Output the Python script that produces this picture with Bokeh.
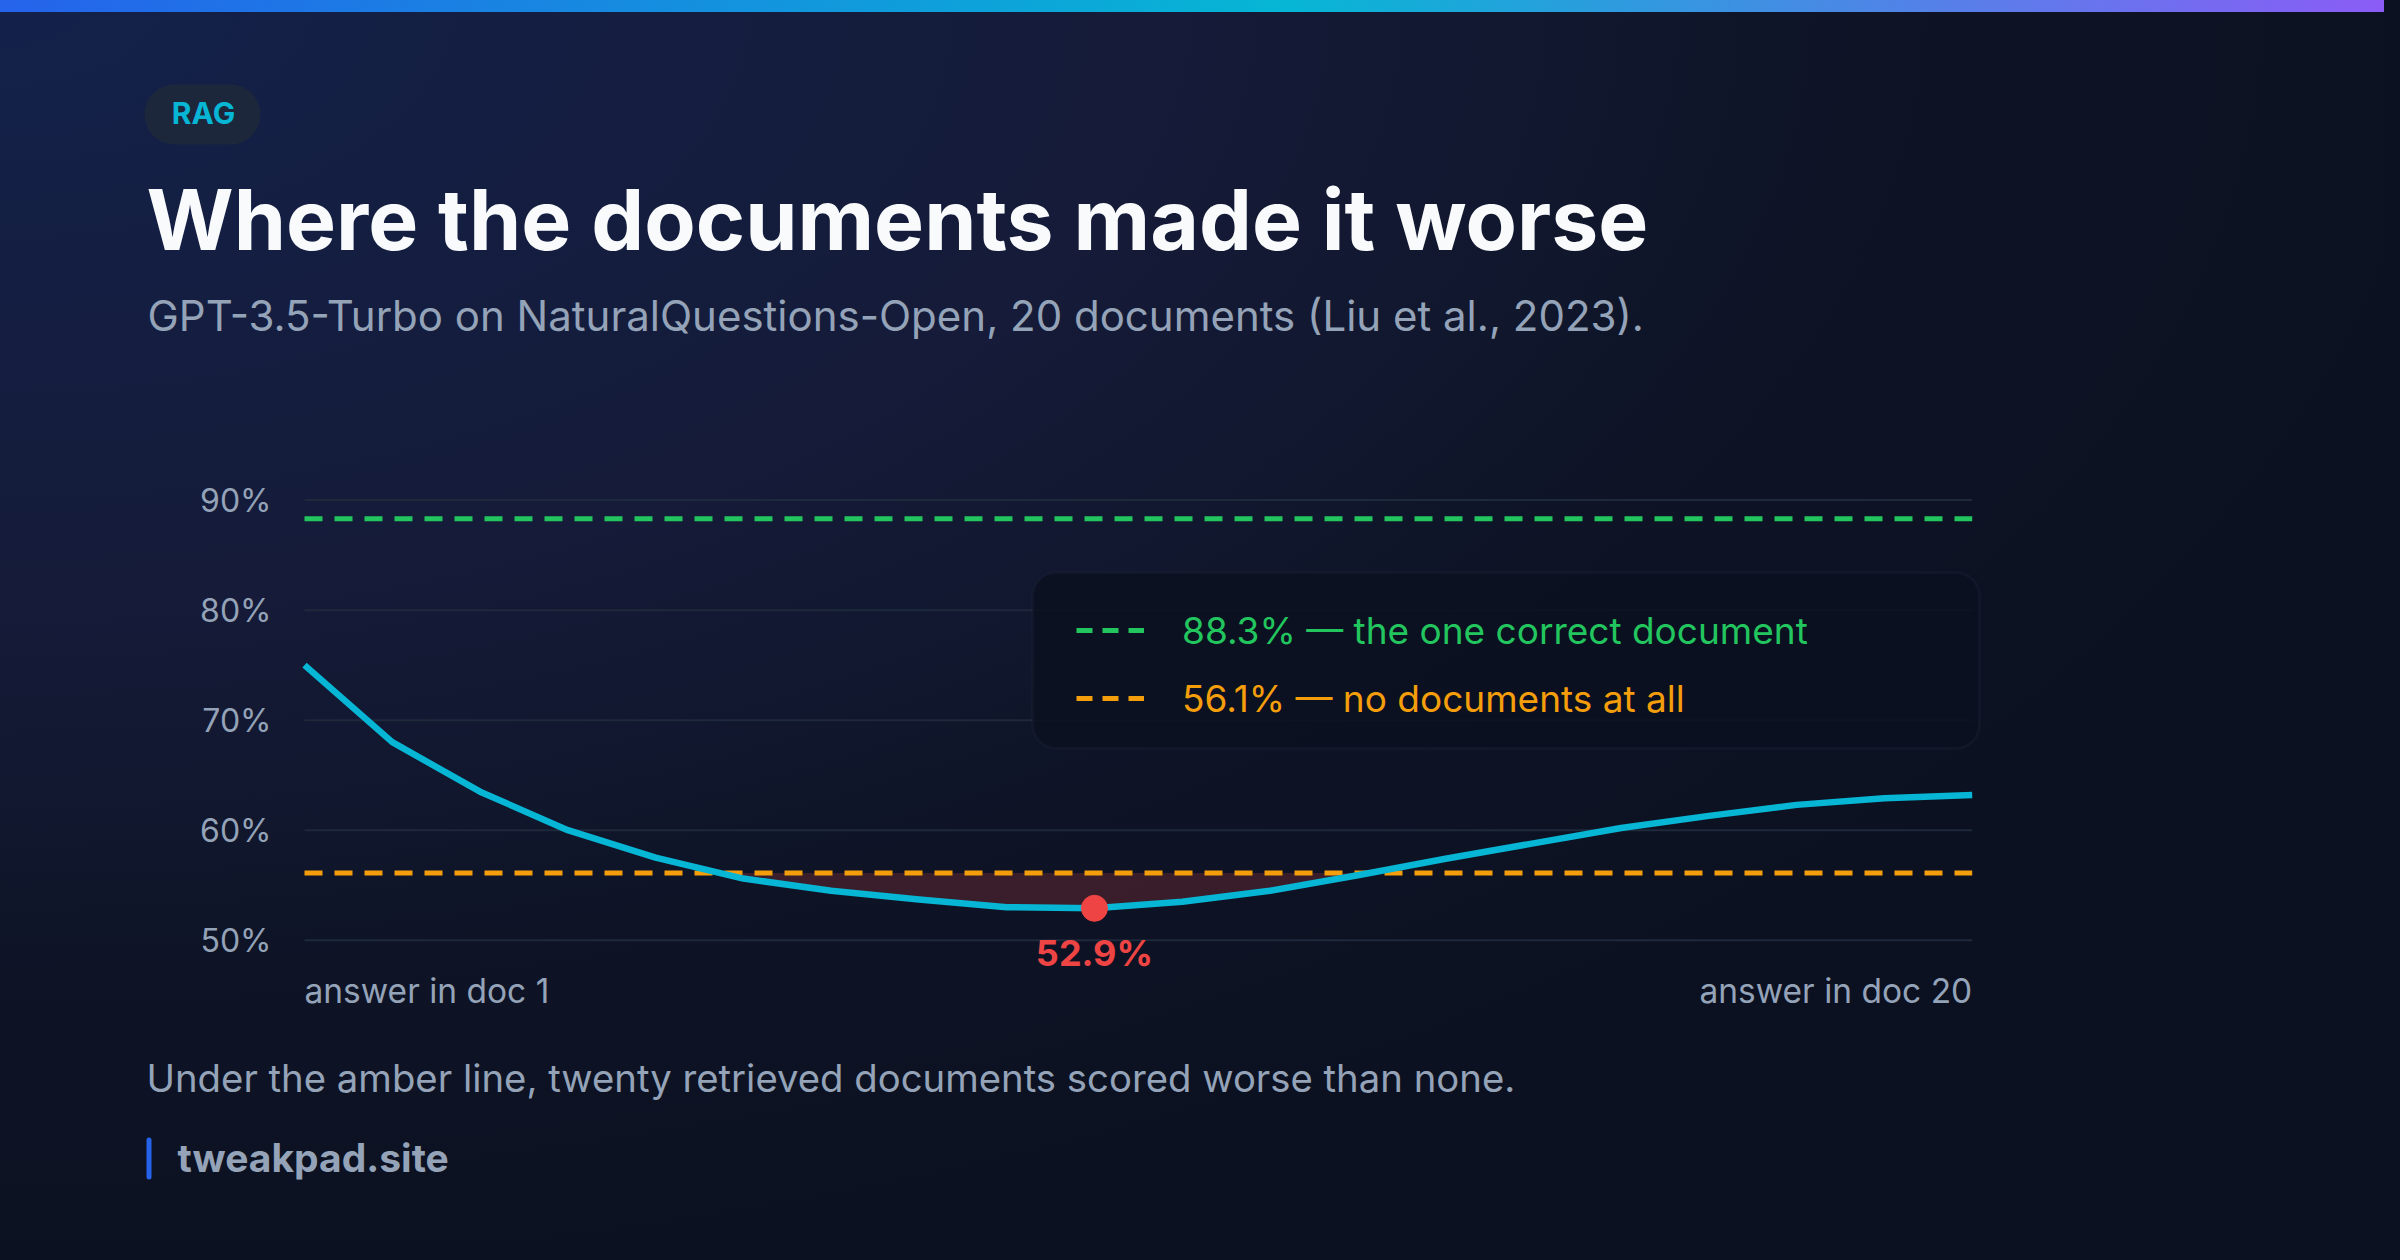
import numpy as np
from bokeh.plotting import figure
from bokeh.models import (Range1d, Label, BoxAnnotation, Legend, LegendItem)
from bokeh.core.properties import value
from bokeh.embed import file_html
from bokeh.resources import INLINE

# ---------------- data ----------------
docs = list(range(1, 21))                     # position of the answer-bearing document
accuracy = [75.0, 68.0, 63.5, 60.0, 57.5, 55.6, 54.5, 53.7, 53.0, 52.9,
            53.5, 54.5, 55.9, 57.4, 58.8, 60.2, 61.3, 62.3, 62.9, 63.2]
oracle = 88.3          # the one correct document
closed_book = 56.1     # no documents at all
y_ticks = [50, 60, 70, 80, 90]
y_tick_labels = ["50%", "60%", "70%", "80%", "90%"]
x_labels = ["answer in doc 1", "answer in doc 20"]
legend_texts = ["the one correct document", "no documents at all"]

tag = "RAG"
title = "Where the documents made it worse"
subtitle = "GPT-3.5-Turbo on NaturalQuestions-Open, 20 documents (Liu et al., 2023)."
footnote = "Under the amber line, twenty retrieved documents scored worse than none."
brand = "tweakpad.site"

# ---------------- style / layout ----------------
FONT = "Inter"
CYAN = "#06b6d4"
GREEN = "#22c55e"
AMBER = "#f59e0b"
RED = "#ef4444"
MUTED = "#94a3b8"
GRID = "#1e293b"

W, H = 2384, 1244
# pixel box of the data area (canvas pixels, y downward)
PL, PR, PT, PB = 304.0, 1971.7, 499.6, 939.7
kx = (PR - PL) / (docs[-1] - docs[0])
ky = (PB - PT) / (y_ticks[-1] - y_ticks[0])
x_range = Range1d(docs[0] - PL / kx, docs[-1] + (W - PR) / kx)
y_range = Range1d(y_ticks[0] - (H - PB) / ky, y_ticks[-1] + PT / ky)


def base(y, size):
    """canvas y for a Label so that its alphabetic baseline lands at y"""
    return y - 0.39 * size


p = figure(width=W, height=H, output_backend="svg", toolbar_location=None,
           x_range=x_range, y_range=y_range,
           x_axis_location=None, y_axis_location=None,
           min_border=0)
p.styles = {
    "background": (
        "linear-gradient(90deg, #2563eb 0%, #06b6d4 54%, #8b5cf6 100%) top left / 100% 12px no-repeat, "
        "radial-gradient(ellipse at top left, #13214a 0%, #151b38 35%, #0e1426 55%, #0b1120 75%)"
    ),
    "box-shadow": "0 0 0 16px #0b1120",
}
p.background_fill_alpha = 0
p.border_fill_alpha = 0
p.outline_line_color = None
p.grid.visible = False

# gridlines and tick labels on the value scale
p.segment(x0=[docs[0]] * len(y_ticks), x1=[docs[-1]] * len(y_ticks),
          y0=y_ticks, y1=y_ticks, line_color=GRID, line_width=2)
p.text(x=[docs[0]] * len(y_ticks), y=y_ticks, text=y_tick_labels, x_offset=-33,
       text_align="right", text_baseline="middle", text_font=value(FONT),
       text_font_size="32px", text_color=MUTED)

# ---------------- shaded region below the no-document line ----------------
shade_x, shade_y = [], []
for i in range(len(docs)):
    if i > 0:
        a = accuracy[i - 1] - closed_book
        b = accuracy[i] - closed_book
        if a * b < 0:
            t = a / (a - b)
            shade_x.append(docs[i - 1] + t * (docs[i] - docs[i - 1]))
            shade_y.append(closed_book)
    if accuracy[i] < closed_book:
        shade_x.append(docs[i])
        shade_y.append(accuracy[i])
p.varea(x=shade_x, y1=shade_y, y2=[closed_book] * len(shade_x),
        fill_color=RED, fill_alpha=0.2)

# ---------------- reference lines ----------------
p.line([docs[0], docs[-1]], [oracle, oracle], line_color=GREEN,
       line_width=5, line_dash="18 12")
p.line([docs[0], docs[-1]], [closed_book, closed_book], line_color=AMBER,
       line_width=5, line_dash="18 12")

# ---------------- main series ----------------
p.line(docs, accuracy, line_color=CYAN, line_width=6.5, line_join="round")
imin = int(np.argmin(accuracy))
p.scatter([docs[imin]], [accuracy[imin]], size=26, color=RED)
p.add_layout(Label(x=docs[imin], y=base(967, 36), x_units="data", y_units="canvas",
                   text=f"{accuracy[imin]:.1f}%", text_align="center",
                   text_baseline="alphabetic", text_font=FONT, text_font_size="36px",
                   text_font_style="bold", text_color=RED))

# x end labels
p.add_layout(Label(x=docs[0], y=base(1004, 33.5), x_units="data", y_units="canvas",
                   text=x_labels[0], text_align="left", text_baseline="alphabetic",
                   text_font=FONT, text_font_size="33.5px", text_color=MUTED))
p.add_layout(Label(x=docs[-1], y=base(1004, 33.5), x_units="data", y_units="canvas",
                   text=x_labels[1], text_align="right", text_baseline="alphabetic",
                   text_font=FONT, text_font_size="33.5px", text_color=MUTED))

# ---------------- legend ----------------
p.add_layout(BoxAnnotation(left=1032, right=1979, top=572, bottom=748,
                           left_units="canvas", right_units="canvas",
                           top_units="canvas", bottom_units="canvas",
                           fill_color="#0b1120", fill_alpha=0.9,
                           line_color=GRID, line_width=3, border_radius=24))

g_key = p.line(x=[docs[0]], y=[oracle], line_color=GREEN, line_width=5, line_dash="16 10")
a_key = p.line(x=[docs[0]], y=[closed_book], line_color=AMBER, line_width=5, line_dash="16 10")

for key, val, txt, col, ybot in [(g_key, oracle, legend_texts[0], GREEN, 589),
                                 (a_key, closed_book, legend_texts[1], AMBER, 521)]:
    leg = Legend(items=[LegendItem(label=f"{val:.1f}% — {txt}", renderers=[key])],
                 location=(1076, ybot), padding=0, margin=0, spacing=0,
                 glyph_width=68, glyph_height=50, label_height=50, label_standoff=38,
                 label_text_font=FONT, label_text_font_size="37px",
                 label_text_color=col, label_text_baseline="middle",
                 border_line_color=None, background_fill_alpha=0)
    p.add_layout(leg)

# ---------------- header / footer ----------------
p.add_layout(BoxAnnotation(left=144, right=260, top=84, bottom=144,
                           left_units="canvas", right_units="canvas",
                           top_units="canvas", bottom_units="canvas",
                           fill_color="#1e293b", fill_alpha=0.85, line_color=None,
                           border_radius=30))
p.add_layout(Label(x=203, y=base(124, 30), x_units="canvas", y_units="canvas", text=tag,
                   text_align="center", text_baseline="alphabetic", text_font=FONT,
                   text_font_size="30px", text_font_style="bold", text_color=CYAN))
p.add_layout(Label(x=146, y=base(252, 84), x_units="canvas", y_units="canvas", text=title,
                   text_baseline="alphabetic", text_font=FONT, text_font_size="84px",
                   text_font_style="bold", text_color="#f8fafc"))
p.add_layout(Label(x=147, y=base(331, 42), x_units="canvas", y_units="canvas", text=subtitle,
                   text_baseline="alphabetic", text_font=FONT, text_font_size="42px",
                   text_color=MUTED))
p.add_layout(Label(x=146, y=base(1092, 38.3), x_units="canvas", y_units="canvas",
                   text=footnote, text_baseline="alphabetic", text_font=FONT,
                   text_font_size="38.3px", text_color=MUTED))
p.add_layout(BoxAnnotation(left=146, right=151, top=1137, bottom=1179,
                           left_units="canvas", right_units="canvas",
                           top_units="canvas", bottom_units="canvas",
                           fill_color="#2563eb", fill_alpha=1, line_color=None,
                           border_radius=3))
p.add_layout(Label(x=177, y=base(1172, 39), x_units="canvas", y_units="canvas", text=brand,
                   text_baseline="alphabetic", text_font=FONT, text_font_size="39px",
                   text_font_style="bold", text_color=MUTED))

open("out.html", "w").write(file_html(p, INLINE))
